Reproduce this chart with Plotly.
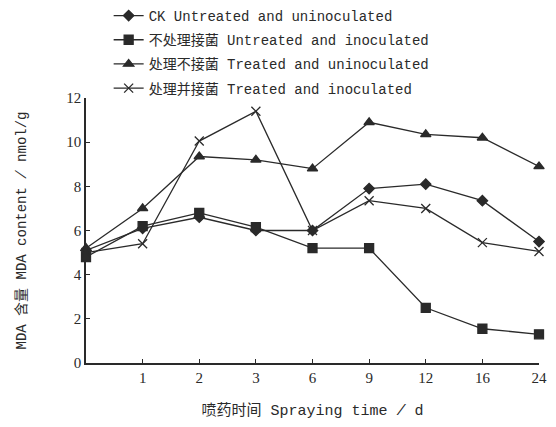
import plotly.graph_objects as go

time_labels = ["0", "1", "2", "3", "6", "9", "12", "16", "24"]
ck_untreated_uninoculated = [5.1, 6.1, 6.6, 6.0, 6.0, 7.9, 8.1, 7.35, 5.5]
untreated_inoculated = [4.8, 6.2, 6.8, 6.15, 5.2, 5.2, 2.5, 1.55, 1.3]
treated_uninoculated = [5.2, 7.0, 9.35, 9.2, 8.8, 10.9, 10.35, 10.2, 8.9]
treated_inoculated = [5.0, 5.4, 10.05, 11.4, 6.0, 7.35, 7.0, 5.45, 5.05]

names = ["CK Untreated and uninoculated",
         "不处理接菌 Untreated and inoculated",
         "处理不接菌 Treated and uninoculated",
         "处理并接菌 Treated and inoculated"]
series = [ck_untreated_uninoculated, untreated_inoculated, treated_uninoculated, treated_inoculated]
symbols = ["diamond", "square", "triangle-up", "x-thin-open"]
sizes = [8, 9, 9, 9]

xpos = list(range(len(time_labels)))
ink = "#2a2a2a"
FONT = "Liberation Mono, Noto Sans CJK SC, monospace"

fig = go.Figure()
for i, (nm, ys) in enumerate(zip(names, series)):
    fig.add_trace(go.Scatter(
        x=xpos, y=ys, name=nm, mode="lines+markers",
        line=dict(color=ink, width=1.3),
        marker=dict(symbol=symbols[i], size=sizes[i], color=ink,
                    line=dict(color=ink, width=1.3)),
        cliponaxis=False, legendgroup=f"g{i}",
    ))

fig.update_layout(
    width=548, height=419, autosize=False,
    margin=dict(l=78, r=17, t=90, b=64, autoexpand=False),
    paper_bgcolor="white", plot_bgcolor="white",
    showlegend=True,
    legend=dict(x=0.05, y=1.37, xanchor="left", yanchor="top",
                font=dict(family=FONT, size=14, color=ink),
                bgcolor="rgba(0,0,0,0)", tracegroupgap=3,
                itemwidth=30),
    xaxis=dict(range=[0, 8], tickmode="array", tickvals=xpos[1:], ticktext=time_labels[1:],
               showgrid=False, zeroline=False, showline=True, linecolor=ink, linewidth=1.5,
               ticks="inside", ticklen=4, tickcolor=ink,
               tickfont=dict(family="Liberation Serif, serif", size=15, color=ink),
               title=dict(text="喷药时间 Spraying time <i>/</i> d",
                          font=dict(family=FONT, size=15, color=ink), standoff=20)),
    yaxis=dict(range=[0, 12], tickvals=[0, 2, 4, 6, 8, 10, 12],
               showgrid=False, zeroline=False, showline=True, linecolor=ink, linewidth=1.5,
               ticks="inside", ticklen=4, tickcolor=ink,
               tickfont=dict(family="Liberation Serif, serif", size=15, color=ink),
               title=dict(text="MDA 含量 MDA content <i>/</i> nmol/g",
                          font=dict(family=FONT, size=14, color=ink), standoff=36)),
)

fig.write_html("out.html")
